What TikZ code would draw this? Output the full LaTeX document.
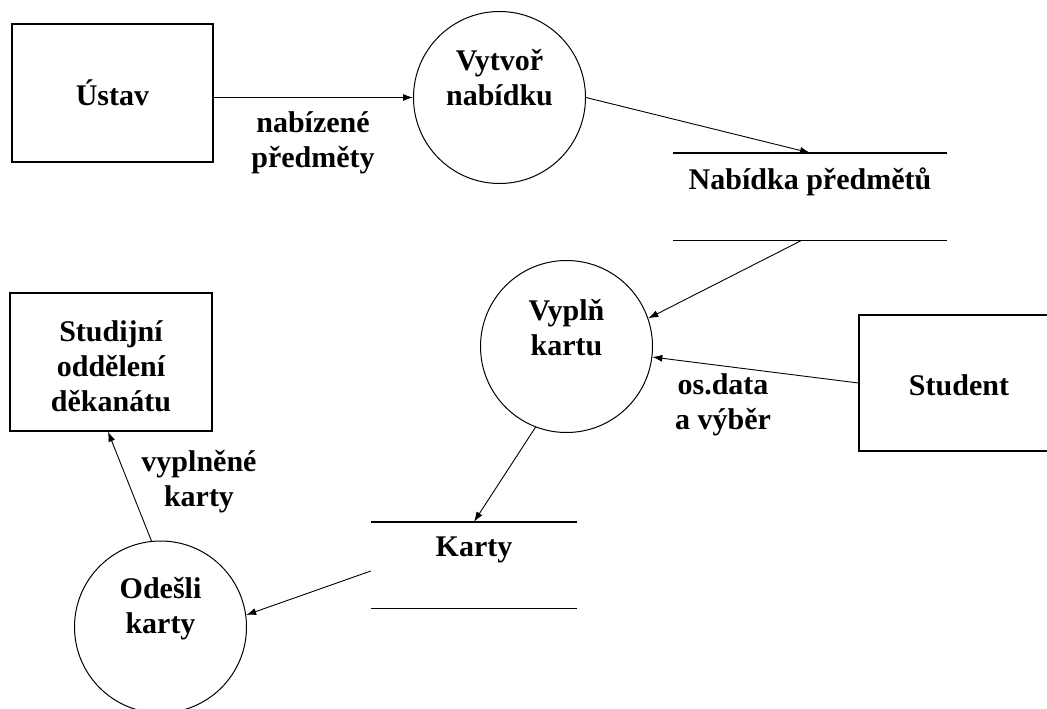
\documentclass[tikz,border=0pt]{standalone}
\usepackage{fontspec}
\setmainfont{Liberation Serif}
\usetikzlibrary{arrows.meta}
\tikzset{
  lbl/.style={font=\fontsize{30}{35}\selectfont\bfseries, align=center, inner sep=0pt},
  entity/.style={draw, line width=1.2pt, inner sep=0pt, lbl},
  proc/.style={draw, circle, line width=1pt, minimum size=172pt, inner sep=0pt},
  store/.style={inner sep=0pt},
  storeline/.style={line width=1.4pt},
  flow/.style={line width=0.9pt, -{Latex[length=10pt,width=7pt]}},
}
\begin{document}
\begin{tikzpicture}[x=1pt,y=-1pt]
\useasboundingbox (0,0) rectangle (1047,709);

% external entities
\node[entity, minimum width=201pt, minimum height=138pt] (ustav) at (112.5,93) {Ústav};
\node[entity, minimum width=202pt, minimum height=138pt] (stud) at (111,362) {};
\node[lbl] (stud-t) at (111,366) {Studijní\\oddělení\\děkanátu};
\node[entity, minimum width=200pt, minimum height=136pt] (student) at (959,383) {};
\node[lbl] (student-t) at (959,385) {Student};

% processes
\node[proc] (vytvor) at (499.5,97.5) {};
\node[lbl] (vytvor-t) at (499.5,78) {Vytvoř\\nabídku};
\node[proc] (vyplnk) at (566.5,346.5) {};
\node[lbl] (vyplnk-t) at (566.5,328) {Vyplň\\kartu};
\node[proc] (odesli) at (160.5,627) {};
\node[lbl] (odesli-t) at (160.5,609) {Odešli\\karty};

% data stores
\node[store, minimum width=274pt, minimum height=87pt] (nab) at (810,196.5) {};
\draw[storeline] (nab.north west) -- (nab.north east) (nab.south west) -- (nab.south east);
\node[lbl] (nab-t) at (810,182) {Nabídka předmětů};
\node[store, minimum width=206pt, minimum height=86pt] (karty) at (474,565) {};
\draw[storeline] (karty.north west) -- (karty.north east) (karty.south west) -- (karty.south east);
\node[lbl] (karty-t) at (474,550) {Karty};

% data flows
\draw[flow] (ustav.east |- vytvor.west) -- (vytvor.west);
\draw[flow] (vytvor.east) -- (nab.north);
\draw[flow] ([xshift=-8pt]nab.south) -- (vyplnk.19);
\draw[flow] (student.west) -- (vyplnk.-7);
\draw[flow] (vyplnk.-111) -- (karty.north);
\draw[flow] ([yshift=-6pt]karty.west) -- (odesli.8);
\draw[flow] (odesli.96) -- ([xshift=-3pt]stud.south);

% flow labels
\node[lbl] (f1) at (313,143) {nabízené\\předměty};
\node[lbl] (f2) at (723,405) {os.data\\a výběr};
\node[lbl] (f3) at (199,482) {vyplněné\\karty};
\end{tikzpicture}
\end{document}
